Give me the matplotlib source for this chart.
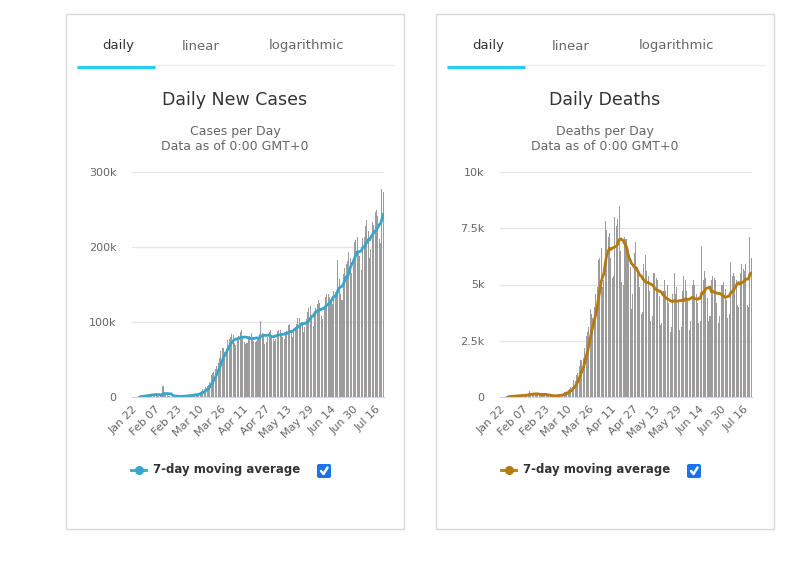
import matplotlib
matplotlib.use("Agg")
import matplotlib.pyplot as plt
from matplotlib.patches import Rectangle, FancyBboxPatch
from matplotlib.ticker import FuncFormatter
import numpy as np
import pandas as pd

# daily new cases, thousands (Jan 22 .. Jul 22)
cases_jan = [0, 0.1, 0.3, 0.5, 0.7, 0.8, 1.7, 1.3, 1.8, 2.0]
cases_feb = [2.1, 2.6, 3.2, 3.9, 3.7, 3.2, 3.4, 2.7, 3.0, 2.6, 2.0, 2.1, 15.1, 5.1, 2.6,
             2.1, 2.0, 1.8, 0.6, 0.6, 1.0, 1.0, 0.6, 0.6, 0.9, 1.0, 1.3, 1.4, 1.8]
cases_mar = [2.0, 1.8, 2.3, 2.3, 2.7, 3.9, 3.9, 3.8, 3.7, 4.5, 7.0, 7.4, 10.8, 11.0, 13.0,
             15.0, 16.5, 19.5, 29.0, 32.0, 33.0, 37.0, 42.0, 45.0, 52.0, 62.0, 66.0, 66.0,
             60.0, 64.0, 76.0]
cases_apr = [77, 80, 84, 83, 72, 70, 76, 82, 87, 90, 80, 74, 71, 72, 80, 82, 86, 80, 75, 74,
             75, 77, 84, 101, 85, 82, 71, 74, 80, 87]
cases_may = [90, 82, 78, 75, 77, 88, 90, 89, 86, 80, 77, 84, 88, 96, 97, 90, 80, 89, 93, 98,
             106, 106, 99, 96, 87, 94, 104, 113, 119, 122, 109]
cases_jun = [95, 115, 119, 124, 129, 126, 108, 104, 120, 133, 137, 137, 134, 129, 124, 142,
             140, 142, 183, 158, 138, 130, 164, 172, 178, 181, 193, 186, 166, 180]
cases_jul = [207, 209, 213, 195, 188, 170, 212, 214, 228, 236, 221, 185, 197, 233, 230, 247,
             249, 241, 211, 206, 277, 273]

# daily deaths
deaths_jan = [0, 8, 16, 15, 24, 26, 26, 38, 43, 46]
deaths_feb = [45, 57, 64, 66, 73, 73, 86, 89, 97, 108, 97, 254, 121, 143, 142, 106, 98, 136,
              115, 118, 109, 97, 150, 71, 52, 29, 44, 37, 58]
deaths_mar = [67, 72, 85, 93, 98, 104, 95, 229, 208, 272, 324, 347, 449, 429, 744, 714, 960,
              1070, 1370, 1650, 1650, 1730, 2200, 2700, 2900, 3100, 3900, 3700, 3500, 4000, 4600]
deaths_apr = [4900, 6100, 6200, 6600, 4900, 5200, 7800, 7400, 7100, 7300, 6200, 5300, 5400,
              8000, 7600, 7900, 8500, 6500, 5100, 5000, 7100, 7000, 6500, 6200, 5800, 3900,
              4600, 6400, 6900, 5800]
deaths_may = [5400, 4900, 3700, 3800, 5900, 6300, 5600, 5400, 4700, 3400, 3600, 5500, 5500,
              5300, 5200, 4500, 3200, 3300, 4700, 5200, 4700, 5000, 4200, 2900, 3100, 4600,
              5500, 4600, 4900, 4300, 3000]
deaths_jun = [3100, 4700, 5400, 5200, 4700, 4300, 3000, 3400, 5000, 5200, 5000, 4600, 4200,
              3300, 3400, 6700, 5200, 5600, 5300, 4400, 3400, 3600, 5200, 5400, 5300, 5200,
              4200, 3300, 3600, 5000]
deaths_jul = [5000, 5100, 4800, 4300, 3500, 3700, 6000, 5400, 5500, 5400, 5200, 4100, 4000,
              5500, 5900, 5700, 5600, 5900, 4100, 4000, 7100, 6200]

cases = np.array(cases_jan + cases_feb + cases_mar + cases_apr + cases_may + cases_jun + cases_jul) * 1000
deaths = np.array(deaths_jan + deaths_feb + deaths_mar + deaths_apr + deaths_may + deaths_jun + deaths_jul)
dates = pd.date_range("2020-01-22", periods=len(cases), freq="D")
tick_labels = [d.strftime("%b %d") for d in dates[::16]]

W, H = 800, 562
fig = plt.figure(figsize=(W / 100, H / 100), dpi=100)
bg = fig.add_axes([0, 0, 1, 1])
bg.set_xlim(0, W)
bg.set_ylim(H, 0)
bg.axis("off")


def kfmt(v, pos):
    if v == 0:
        return "0"
    k = v / 1000
    return ("%g" % k) + "k"


def panel(x0, title, subtitle, values, color, ymax, ystep, ax_left):
    # card
    bg.add_patch(Rectangle((x0, 14), 338, 515, fill=False, ec="#d9d9d9", lw=1))
    # tabs
    bg.text(x0 + 52, 46, "daily", ha="center", va="center", fontsize=9.5, color="#333333")
    bg.text(x0 + 135, 46, "linear", ha="center", va="center", fontsize=9.5, color="#666666")
    bg.text(x0 + 240, 46, "logarithmic", ha="center", va="center", fontsize=9.5, color="#666666")
    bg.plot([x0 + 89, x0 + 328], [65, 65], color="#eeeeee", lw=1)
    bg.plot([x0 + 11, x0 + 89], [67, 67], color="#2ec8f5", lw=2.3, solid_capstyle="butt")
    # titles
    bg.text(x0 + 169, 100, title, ha="center", va="center", fontsize=12.5, color="#333333")
    bg.text(x0 + 169, 131, subtitle, ha="center", va="center", fontsize=9, color="#666666")
    bg.text(x0 + 169, 147, "Data as of 0:00 GMT+0", ha="center", va="center",
            fontsize=9, color="#666666")

    # chart
    ax = fig.add_axes([ax_left / W, 1 - 397 / H, 252 / W, 225 / H])
    ax.set_facecolor("none")
    x = np.arange(len(values))
    ax.bar(x, values, width=0.75, color="#9c9c9c", zorder=2)
    avg = pd.Series(values).rolling(7).mean()
    ax.plot(x, avg, color=color, lw=2, zorder=3)
    ax.set_xlim(-0.5, len(values) - 0.5)
    ax.set_ylim(0, ymax)
    ax.set_yticks(np.arange(0, ymax + 1, ystep))
    ax.yaxis.set_major_formatter(FuncFormatter(kfmt))
    ax.grid(axis="y", color="#e6e6e6", lw=1, zorder=0)
    ax.set_axisbelow(True)
    for s in ["top", "right", "left"]:
        ax.spines[s].set_visible(False)
    ax.spines["bottom"].set_color("#ccd6eb")
    ax.spines["bottom"].set_zorder(4)
    ax.set_xticks(x[::16])
    ax.set_xticklabels(tick_labels, rotation=45, ha="right", rotation_mode="anchor",
                       fontsize=8, color="#666666")
    ax.tick_params(axis="x", length=0, pad=5)
    ax.tick_params(axis="y", length=0, pad=11, labelsize=8, labelcolor="#666666")

    # legend
    lx = x0 + 65
    bg.plot([lx, lx + 15], [470, 470], color=color, lw=2)
    bg.plot([lx + 7.5], [470], marker="o", ms=5.5, color=color)
    bg.text(lx + 22, 470, "7-day moving average", ha="left", va="center",
            fontsize=8.5, fontweight="bold", color="#333333")
    cx = x0 + 251
    bg.add_patch(FancyBboxPatch((cx + 1.5, 465.5), 11, 11, boxstyle="round,pad=1.5,rounding_size=2",
                                fc="#1a73e8", ec="none"))
    bg.plot([cx + 4, cx + 6.5, cx + 10.5], [471, 474, 467.5], color="white", lw=1.8,
            solid_capstyle="round", solid_joinstyle="round")


panel(66, "Daily New Cases", "Cases per Day", cases, "#37a6cc", 300000, 100000, 132)
panel(436, "Daily Deaths", "Deaths per Day", deaths, "#b7790e", 10000, 2500, 500)

fig.savefig("out.png", dpi=100, facecolor="white")
